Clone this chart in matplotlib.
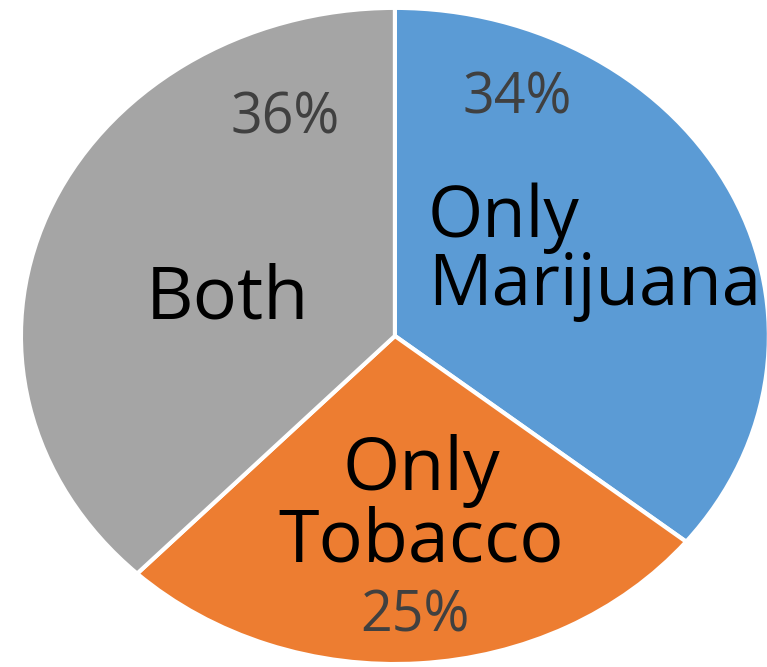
import matplotlib
matplotlib.use("Agg")
import matplotlib.pyplot as plt

# dados do grafico ===================================================
categorias = ['Only\nMarijuana', 'Only\nTobacco', 'Both']
valores    = [34, 25, 36]
rotulos_pc = ['34%', '25%', '36%']
cores      = ['#5B9BD5', '#ED7D31', '#A5A5A5']

plt.rcParams['font.family'] = ['Open Sans', 'DejaVu Sans']

fig = plt.figure(figsize=(7.67, 6.67), dpi=100)
ax = fig.add_axes([0, 0, 1, 1])

wedges, _ = ax.pie(valores, colors=cores, startangle=90, counterclock=False,
                   wedgeprops=dict(edgecolor='white', linewidth=3))

ax.set_aspect('auto')
ax.set_xlim(-1.056, 0.995)
ax.set_ylim(-1.009, 1.024)
ax.axis('off')

# rotulos das categorias
pos_cat = [(0.088, 0.255, 'left'), (0.07, -0.52, 'center'), (-0.447, 0.110, 'center')]
tam_cat = [51, 53, 53]
for nome, (x, y, ha), tam in zip(categorias, pos_cat, tam_cat):
    ax.text(x, y, nome, ha=ha, va='center', fontsize=tam, color='black',
            linespacing=0.95)

# rotulos percentuais
pos_pc = [(0.326, 0.722), (0.053, -0.858), (-0.294, 0.662)]
for txt, (x, y) in zip(rotulos_pc, pos_pc):
    ax.text(x, y, txt, ha='center', va='center', fontsize=40, color='#404040')

plt.savefig('out.png', dpi=100)
